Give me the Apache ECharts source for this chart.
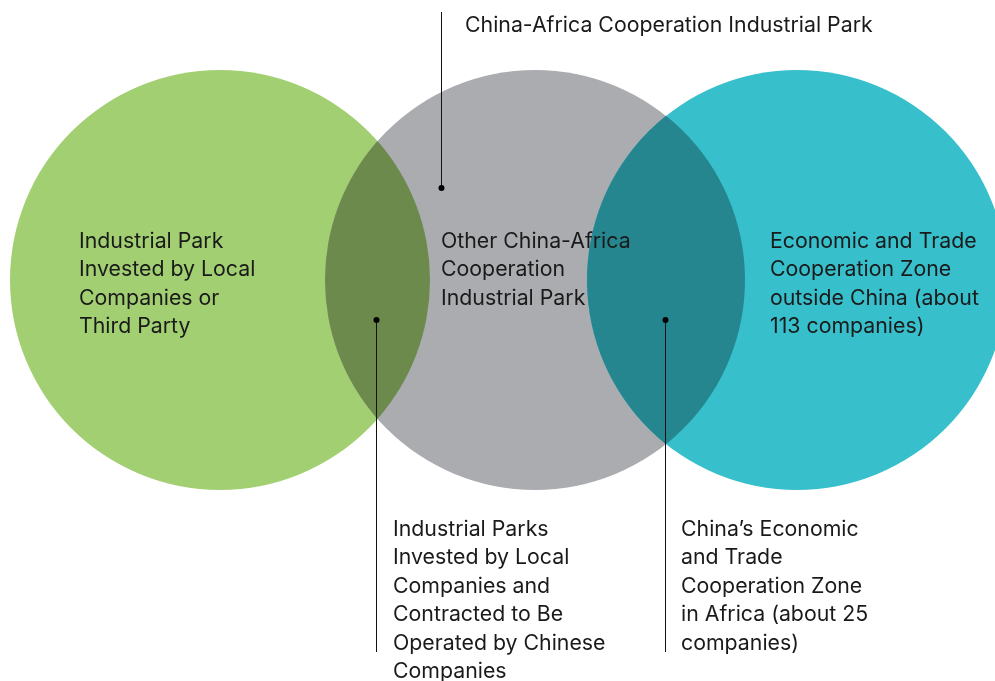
<!DOCTYPE html>
<html lang="en">
<head>
    <meta charset="UTF-8">
    <style>
        html, body { margin: 0; padding: 0; background: #fff; }
        #main { width: 995px; height: 681px; }
    </style>
    <script src="https://cdn.jsdelivr.net/npm/echarts@6/dist/echarts.min.js"></script>
    <title>China-Africa Industrial Parks</title>
</head>
<body>
    <div id="main"></div>
    <script>
        // circles: [centerX, centerY, radius] in diagram units (y grows downward)
        var circleNames = ['Local / Third Party', 'Other China-Africa', 'Economic and Trade Zone'];
        var circles = [[220, 280, 210], [535, 280, 210], [797, 280, 210]];
        var circleColors = ['#a2cf72', '#abacb0', '#37bfcc'];

        // overlaps: [circle index A, circle index B]
        var overlaps = [[0, 1], [1, 2]];
        var overlapColors = ['#6b8a4c', '#25868f'];

        // leader lines: [x, yStart, yEnd], dot on the end that sits inside a circle
        var leaders = [[441, 12, 188, 'end'], [376, 320, 652, 'start'], [665, 320, 652, 'start']];

        var labelTop = 'China-Africa Cooperation Industrial Park';
        var labelLeft = ['Industrial Park', 'Invested by Local', 'Companies or', 'Third Party'];
        var labelMiddle = ['Other China-Africa', 'Cooperation', 'Industrial Park'];
        var labelRight = ['Economic and Trade', 'Cooperation Zone', 'outside China (about', '113 companies)'];
        var labelBottomLeft = ['Industrial Parks', 'Invested by Local', 'Companies and', 'Contracted to Be', 'Operated by Chinese', 'Companies'];
        var labelBottomRight = ['China\u2019s Economic', 'and Trade', 'Cooperation Zone', 'in Africa (about 25', 'companies)'];

        var myChart = echarts.init(document.getElementById('main'));
        var font = 'Inter, Roboto, "Noto Sans", sans-serif';

        function textBlock(lines, x, y) {
            return {
                type: 'text',
                left: x,
                top: y,
                z: 10,
                style: {
                    text: lines.join('\n'),
                    font: '21.3px ' + font,
                    fill: '#1a1a1a',
                    lineHeight: 28.5
                }
            };
        }

        var option = {
            animation: false,
            grid: { left: 0, right: 0, top: 0, bottom: 0 },
            xAxis: { type: 'value', min: 0, max: 995, show: false },
            yAxis: { type: 'value', min: 0, max: 681, inverse: true, show: false },
            series: [{
                type: 'custom',
                name: 'circles',
                z: 1,
                data: circles.map(function (c, i) { return c.concat(i); }),
                renderItem: function (params, api) {
                    var p = api.coord([api.value(0), api.value(1)]);
                    var r = api.size([api.value(2), 0])[0];
                    return {
                        type: 'circle',
                        shape: { cx: p[0], cy: p[1], r: r },
                        style: { fill: circleColors[api.value(3)] }
                    };
                }
            }, {
                type: 'custom',
                name: 'overlaps',
                z: 2,
                data: overlaps.map(function (o, i) {
                    var a = circles[o[0]], b = circles[o[1]];
                    return [a[0], a[1], a[2], b[0], b[1], b[2], i];
                }),
                renderItem: function (params, api) {
                    var pa = api.coord([api.value(0), api.value(1)]);
                    var pb = api.coord([api.value(3), api.value(4)]);
                    var ra = api.size([api.value(2), 0])[0];
                    var rb = api.size([api.value(5), 0])[0];
                    var dx = pb[0] - pa[0], dy = pb[1] - pa[1];
                    var d = Math.sqrt(dx * dx + dy * dy);
                    var a = (d * d + ra * ra - rb * rb) / (2 * d);
                    var h = Math.sqrt(ra * ra - a * a);
                    var mx = pa[0] + a * dx / d, my = pa[1] + a * dy / d;
                    var t = [mx + h * dy / d, my - h * dx / d];
                    var bt = [mx - h * dy / d, my + h * dx / d];
                    var path = 'M' + t[0] + ' ' + t[1] +
                        ' A' + ra + ' ' + ra + ' 0 0 1 ' + bt[0] + ' ' + bt[1] +
                        ' A' + rb + ' ' + rb + ' 0 0 1 ' + t[0] + ' ' + t[1] + ' Z';
                    return {
                        type: 'path',
                        shape: { pathData: path },
                        style: { fill: overlapColors[api.value(6)] }
                    };
                }
            }, {
                type: 'custom',
                name: 'leaders',
                z: 5,
                data: leaders.map(function (l) { return [l[0], l[1], l[2], l[3] === 'end' ? 1 : 0]; }),
                renderItem: function (params, api) {
                    var a = api.coord([api.value(0), api.value(1)]);
                    var b = api.coord([api.value(0), api.value(2)]);
                    var dot = api.value(3) === 1 ? b : a;
                    var x = Math.round(a[0]) + 0.5;
                    return {
                        type: 'group',
                        children: [{
                            type: 'line',
                            shape: { x1: x, y1: a[1], x2: x, y2: b[1] },
                            style: { stroke: '#111', lineWidth: 1 }
                        }, {
                            type: 'circle',
                            shape: { cx: x, cy: dot[1], r: 3 },
                            style: { fill: '#000' }
                        }]
                    };
                }
            }],
            graphic: [
                textBlock([labelTop], 465, 11),
                textBlock(labelLeft, 79, 227),
                textBlock(labelMiddle, 441, 227),
                textBlock(labelRight, 770, 227),
                textBlock(labelBottomLeft, 393, 515),
                textBlock(labelBottomRight, 681, 515)
            ]
        };
        myChart.setOption(option);
    </script>
</body>
</html>
